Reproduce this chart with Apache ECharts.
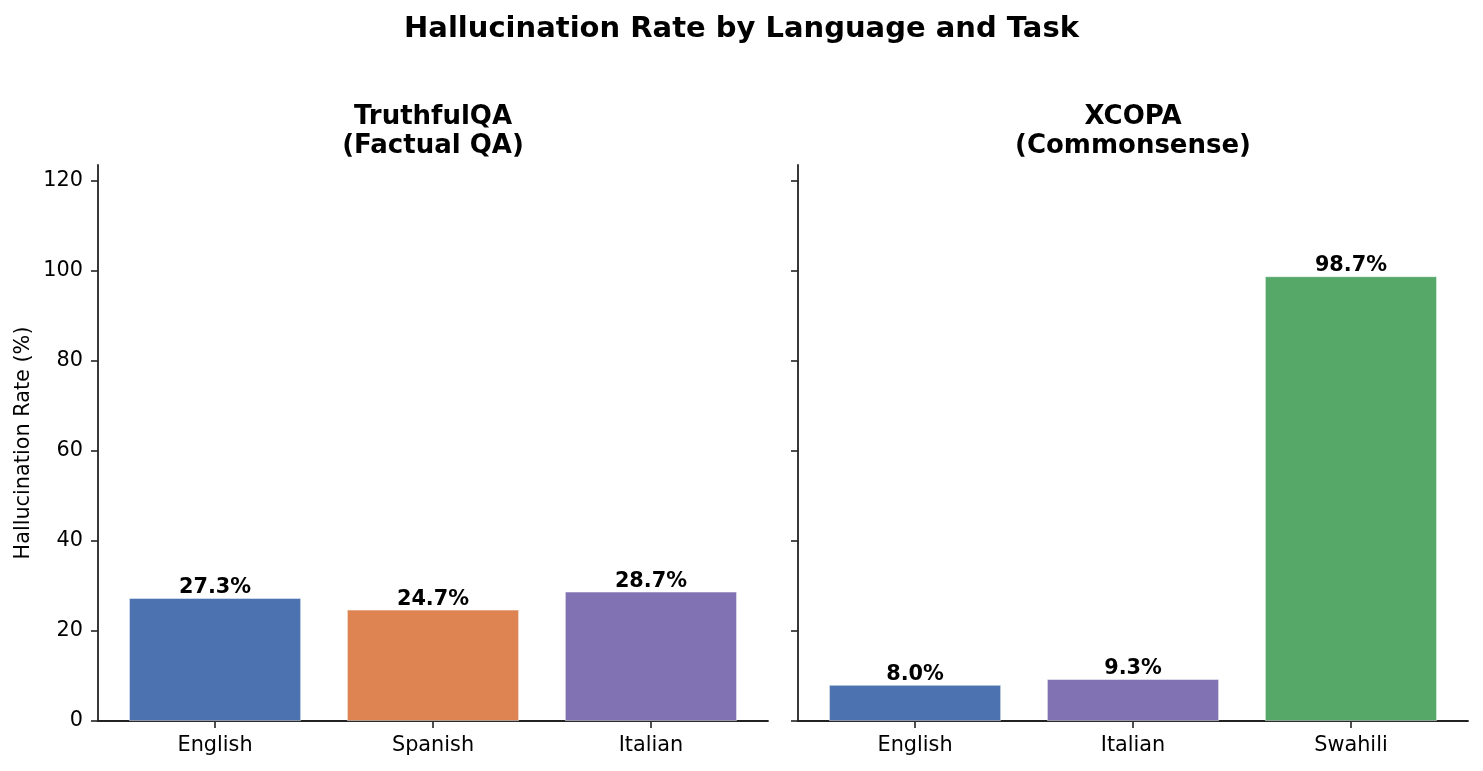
<!DOCTYPE html>
<html>
<head>
<meta charset="utf-8">
<title>Hallucination Rate by Language and Task</title>
<script src="https://cdn.jsdelivr.net/npm/echarts@6/dist/echarts.min.js"></script>
<style>
    html, body { margin: 0; padding: 0; background: #fff; }
    #chart { width: 1483px; height: 771px; }
</style>
</head>
<body>
<div id="chart"></div>
<script>
// data
const suptitle = 'Hallucination Rate by Language and Task'
const panelTitles = ['TruthfulQA\n(Factual QA)', 'XCOPA\n(Commonsense)']
const truthfulLangs = ['English', 'Spanish', 'Italian']
const truthfulRates = [27.3, 24.7, 28.7]
const xcopaLangs = ['English', 'Italian', 'Swahili']
const xcopaRates = [8.0, 9.3, 98.7]
const yTicks = [0, 20, 40, 60, 80, 100, 120]
const yMax = 123.4

// styles
const langColors = { English: '#4c72b0', Spanish: '#dd8452', Italian: '#8172b3', Swahili: '#55a868' }
const font = '"DejaVu Sans", sans-serif'
const axisColor = '#222'
const panels = [
    { langs: truthfulLangs, rates: truthfulRates, left: 98 },
    { langs: xcopaLangs, rates: xcopaRates, left: 798 }
]

const chart = echarts.init(document.getElementById('chart'))

const option = {
    backgroundColor: '#fff',
    animation: false,
    title: {
        text: suptitle,
        left: 'center',
        top: 14,
        padding: 0,
        textStyle: { fontFamily: font, fontSize: 29, fontWeight: 'bold', color: '#000', lineHeight: 30 }
    },
    graphic: panelTitles.map((t, i) => ({
        type: 'text',
        x: panels[i].left + 335,
        y: 131.5,
        style: {
            text: t,
            align: 'center',
            verticalAlign: 'middle',
            fontFamily: font,
            fontSize: 26,
            fontWeight: 'bold',
            lineHeight: 29,
            fill: '#000'
        }
    })),
    grid: panels.map(p => ({ left: p.left, width: 670, top: 165, height: 556 })),
    xAxis: panels.map((p, i) => ({
        gridIndex: i,
        type: 'value',
        min: -0.537,
        max: 2.537,
        axisLine: { show: true, onZero: false, lineStyle: { color: axisColor, width: 1.8 } },
        axisTick: { show: true, customValues: [0, 1, 2], length: 7, lineStyle: { color: axisColor, width: 1.6 } },
        axisLabel: {
            customValues: [0, 1, 2],
            formatter: v => p.langs[v],
            margin: 14,
            fontFamily: font,
            fontSize: 20.8,
            color: '#000'
        },
        splitLine: { show: false }
    })),
    yAxis: panels.map((p, i) => ({
        gridIndex: i,
        type: 'value',
        min: 0,
        max: yMax,
        name: i === 0 ? 'Hallucination Rate (%)' : '',
        nameLocation: 'middle',
        nameGap: 64,
        nameTextStyle: { fontFamily: font, fontSize: 20.8, color: '#000' },
        axisLine: { show: true, onZero: false, lineStyle: { color: axisColor, width: 1.8 } },
        axisTick: { show: true, customValues: yTicks, length: 7, lineStyle: { color: axisColor, width: 1.6 } },
        axisLabel: {
            show: i === 0,
            customValues: yTicks,
            margin: 15,
            padding: [3, 0, 0, 0],
            fontFamily: font,
            fontSize: 20.8,
            color: '#000'
        },
        splitLine: { show: false }
    })),
    series: panels.map((p, i) => ({
        type: 'bar',
        xAxisIndex: i,
        yAxisIndex: i,
        barWidth: 172,
        data: p.rates.map((v, k) => ({
            value: [k, v],
            itemStyle: { color: langColors[p.langs[k]], borderColor: 'rgba(255,255,255,0.6)', borderWidth: 0.8 }
        })),
        label: {
            show: true,
            position: 'top',
            distance: 0,
            formatter: d => d.value[1].toFixed(1) + '%',
            fontFamily: font,
            fontSize: 20.8,
            fontWeight: 'bold',
            color: '#000'
        }
    }))
}

chart.setOption(option)
</script>
</body>
</html>
